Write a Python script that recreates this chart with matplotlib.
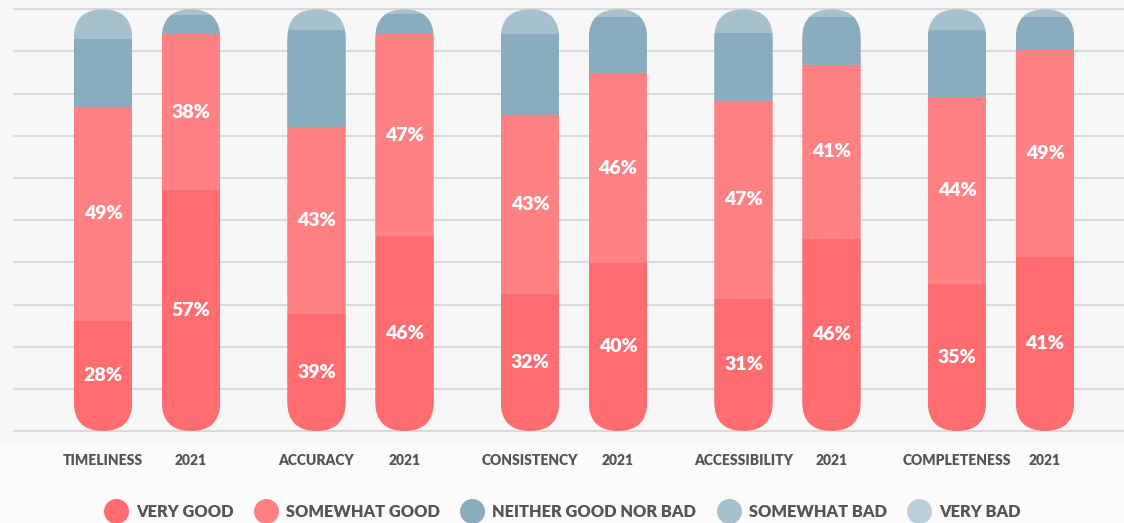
import matplotlib
matplotlib.use("Agg")
import matplotlib.pyplot as plt
from matplotlib.patches import FancyBboxPatch, Rectangle
from matplotlib.lines import Line2D
import numpy as np

plt.rcParams['font.family'] = ['Lato', 'DejaVu Sans']

categories = ["TIMELINESS", "2021", "ACCURACY", "2021", "CONSISTENCY", "2021",
              "ACCESSIBILITY", "2021", "COMPLETENESS", "2021"]
series = ["VERY GOOD", "SOMEWHAT GOOD", "NEITHER GOOD NOR BAD", "SOMEWHAT BAD", "VERY BAD"]
colors = ["#ff6d71", "#ff8184", "#8aacbf", "#a6c1cd", "#b9d0da"]

# segment heights as drawn (percent of bar)
very_good = [26.2, 57.2, 27.8, 46.2, 32.5, 39.9, 31.4, 45.6, 34.9, 41.3]
somewhat_good = [50.6, 36.9, 44.4, 47.9, 42.4, 44.9, 46.8, 41.3, 44.4, 49.0]
neither = [16.1, 4.5, 23.0, 4.7, 19.2, 13.4, 16.1, 11.3, 15.7, 7.9]
somewhat_bad = [7.1, 1.4, 4.8, 1.2, 5.9, 1.8, 5.7, 1.8, 5.0, 1.8]
very_bad = [0, 0, 0, 0, 0, 0, 0, 0, 0, 0]

# printed labels
very_good_lbl = ["28%", "57%", "39%", "46%", "32%", "40%", "31%", "46%", "35%", "41%"]
somewhat_good_lbl = ["49%", "38%", "43%", "47%", "43%", "46%", "47%", "41%", "44%", "49%"]

W, H = 1124, 523
fig = plt.figure(figsize=(W / 100, H / 100), dpi=100, facecolor="#fbfbfb")
fig.patches.append(Rectangle((0, 78 / H), 1, 1 - 78 / H, transform=fig.transFigure,
                             facecolor="#f7f7f7", edgecolor="none", zorder=-5))

ax_l, ax_b, ax_t = 13, 90, 7
ax = fig.add_axes([ax_l / W, ax_b / H, 1 - ax_l / W, 1 - (ax_b + ax_t) / H])
ax.set_facecolor("none")

group_gap = 2.426
width = 0.665
x = np.array([g * group_gap + k for g in range(5) for k in range(2)])
xlim = (-1.023, -1.023 + 12.625)
ylim = (-0.47, 100.55)
ax.set_xlim(xlim)
ax.set_ylim(ylim)

ax_w_px = W - ax_l
ax_h_px = H - ax_b - ax_t
aspect = (ax_w_px / (xlim[1] - xlim[0])) / (ax_h_px / (ylim[1] - ylim[0]))

data = [very_good, somewhat_good, neither, somewhat_bad, very_bad]
for i, xi in enumerate(x):
    total = sum(d[i] for d in data)
    pill = FancyBboxPatch((xi - width / 2, 0), width, total,
                          boxstyle=f"round,pad=0,rounding_size={width / 2}",
                          mutation_aspect=aspect, facecolor="none",
                          edgecolor="none", zorder=2)
    ax.add_patch(pill)
    bottom = 0
    for s, d in enumerate(data):
        if d[i] > 0:
            bars = ax.bar(xi, d[i], width, bottom=bottom, color=colors[s],
                          linewidth=0, zorder=2)
            bars[0].set_clip_path(pill)
        bottom += d[i]
    ax.text(xi, very_good[i] / 2, very_good_lbl[i], ha="center", va="center",
            color="white", fontsize=14, fontweight="heavy", zorder=3)
    ax.text(xi, very_good[i] + somewhat_good[i] / 2, somewhat_good_lbl[i],
            ha="center", va="center", color="white", fontsize=14,
            fontweight="heavy", zorder=3)

ax.set_yticks(np.arange(0, 101, 10))
ax.yaxis.grid(True, color="#dadada", linewidth=1.5, zorder=0)
ax.set_axisbelow(True)
ax.tick_params(axis="y", left=False, labelleft=False)
ax.set_xticks(x)
ax.set_xticklabels(categories, fontsize=10, fontweight="heavy", color="#555555")
ax.tick_params(axis="x", length=0, pad=15)
for sp in ax.spines.values():
    sp.set_visible(False)

handles = [Line2D([], [], marker="o", linestyle="none", markersize=18,
                  markerfacecolor=c, markeredgecolor="none") for c in colors]
leg = fig.legend(handles, series, loc="center", bbox_to_anchor=(0.5, 11 / H),
                 ncol=5, frameon=False, handletextpad=0.45, columnspacing=1.2,
                 handlelength=1.55, prop={"size": 11.8, "weight": "heavy"})
for t in leg.get_texts():
    t.set_color("#555555")

fig.savefig("out.png", dpi=100, facecolor=fig.get_facecolor())
